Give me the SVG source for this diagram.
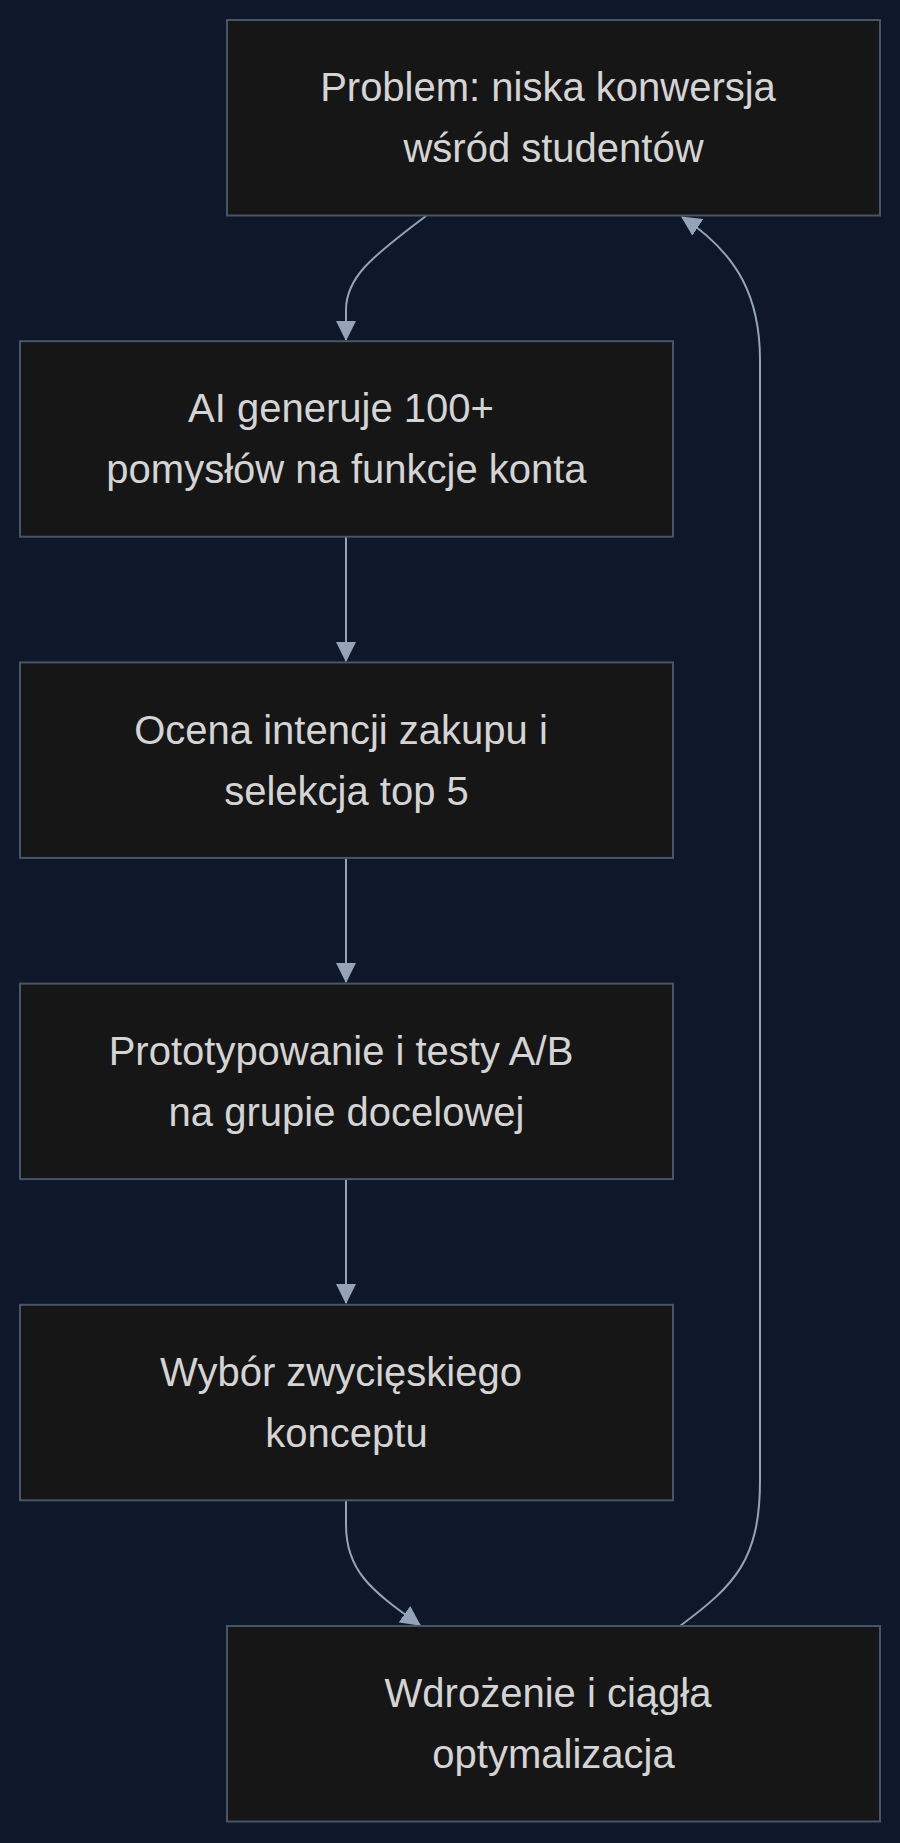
<svg xmlns="http://www.w3.org/2000/svg" width="900" height="1843" viewBox="0 0 900 1843">
<style>
.node rect{fill:#161616;stroke:#475569;stroke-width:2}
.node text{font-family:"Liberation Sans",Arial,sans-serif;font-size:40px;fill:#d4d4d4;text-anchor:middle;dominant-baseline:central}
.edge{fill:none;stroke:#94a3b8;stroke-width:2}
</style>
<defs>
<marker id="arrow" markerUnits="userSpaceOnUse" markerWidth="20" markerHeight="20" viewBox="0 0 18 18" refX="17" refY="9" orient="auto">
<path d="M0,0 L18,9 L0,18 z" fill="#94a3b8"/>
</marker>
</defs>
<rect width="900" height="1843" fill="#0f172a"/>
<g id="connectors">
<path class="edge" d="M426,216 C370,258 346,278 346,310 L346,340" marker-end="url(#arrow)"/>
<path class="edge" d="M346,537 L346,661" marker-end="url(#arrow)"/>
<path class="edge" d="M346,858 L346,982" marker-end="url(#arrow)"/>
<path class="edge" d="M346,1179 L346,1303" marker-end="url(#arrow)"/>
<path class="edge" d="M346,1500 L346,1525 C346,1570 370,1590 420,1625" marker-end="url(#arrow)"/>
<path class="edge" d="M680,1626 C735,1585 760,1560 760,1480 L760,360 C760,300 740,255 682,217" marker-end="url(#arrow)"/>
</g>
<g id="node1" class="node">
<rect x="227" y="20" width="653" height="195.5"/>
<text x="548" y="87.25">Problem: niska konwersja</text>
<text x="553.5" y="148.25">wśród studentów</text>
</g>
<g id="node2" class="node">
<rect x="20" y="341.2" width="653" height="195.5"/>
<text x="341" y="408.45">AI generuje 100+</text>
<text x="346.5" y="469.45">pomysłów na funkcje konta</text>
</g>
<g id="node3" class="node">
<rect x="20" y="662.4" width="653" height="195.5"/>
<text x="341" y="729.65">Ocena intencji zakupu i</text>
<text x="346.5" y="790.65">selekcja top 5</text>
</g>
<g id="node4" class="node">
<rect x="20" y="983.6" width="653" height="195.5"/>
<text x="341" y="1050.85">Prototypowanie i testy A/B</text>
<text x="346.5" y="1111.85">na grupie docelowej</text>
</g>
<g id="node5" class="node">
<rect x="20" y="1304.8" width="653" height="195.5"/>
<text x="341" y="1372.05">Wybór zwycięskiego</text>
<text x="346.5" y="1433.05">konceptu</text>
</g>
<g id="node6" class="node">
<rect x="227" y="1626" width="653" height="195.5"/>
<text x="548" y="1693.25">Wdrożenie i ciągła</text>
<text x="553.5" y="1754.25">optymalizacja</text>
</g>
</svg>
